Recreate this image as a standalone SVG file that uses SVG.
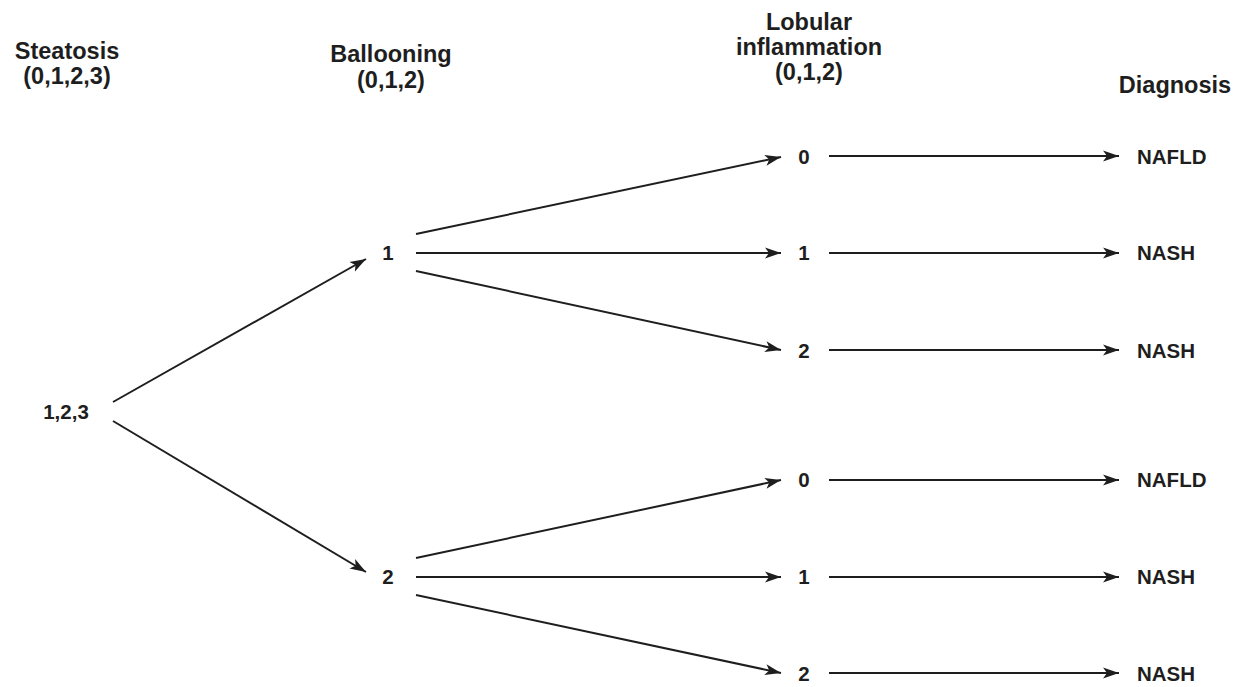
<svg xmlns="http://www.w3.org/2000/svg" width="1247" height="687" viewBox="0 0 1247 687">
<style>
text{font-family:"Liberation Sans",Arial,sans-serif;fill:#1e1e1e;text-anchor:middle}
.h{font-size:23.5px;font-weight:bold}
.n{font-size:20.5px;font-weight:bold}
.d{font-size:20.5px;font-weight:bold;text-anchor:start}
.c line{stroke:#1e1e1e;stroke-width:2;marker-end:url(#ah)}
</style>
<defs>
<marker id="ah" markerUnits="userSpaceOnUse" markerWidth="18" markerHeight="12" refX="16" refY="6" orient="auto">
<path d="M0,0.5 L16,6 L0,11.5 L4,6 z" fill="#1e1e1e"/>
</marker>
</defs>
<rect width="1247" height="687" fill="#fff"/>
<g id="headers">
<text class="h" x="67" y="59">Steatosis</text>
<text class="h" x="67" y="84">(0,1,2,3)</text>
<text class="h" x="391" y="62">Ballooning</text>
<text class="h" x="391" y="88">(0,1,2)</text>
<text class="h" x="809" y="30">Lobular</text>
<text class="h" x="809" y="55">inflammation</text>
<text class="h" x="809" y="80">(0,1,2)</text>
<text class="h" x="1175" y="93">Diagnosis</text>
</g>
<g id="steatosis"><text class="n" x="66" y="419">1,2,3</text></g>
<g id="ballooning-1"><text class="n" x="388" y="260">1</text></g>
<g id="ballooning-2"><text class="n" x="388" y="584">2</text></g>
<g id="lobular-1-0"><text class="n" x="804" y="164">0</text></g>
<g id="lobular-1-1"><text class="n" x="804" y="260">1</text></g>
<g id="lobular-1-2"><text class="n" x="804" y="358">2</text></g>
<g id="lobular-2-0"><text class="n" x="804" y="487">0</text></g>
<g id="lobular-2-1"><text class="n" x="804" y="584">1</text></g>
<g id="lobular-2-2"><text class="n" x="804" y="681">2</text></g>
<g id="diag-1"><text class="d" x="1137" y="164">NAFLD</text></g>
<g id="diag-2"><text class="d" x="1137" y="260">NASH</text></g>
<g id="diag-3"><text class="d" x="1137" y="358">NASH</text></g>
<g id="diag-4"><text class="d" x="1137" y="487">NAFLD</text></g>
<g id="diag-5"><text class="d" x="1137" y="584">NASH</text></g>
<g id="diag-6"><text class="d" x="1137" y="681">NASH</text></g>
<g class="c" id="connectors">
<line x1="113" y1="402" x2="366" y2="259"/>
<line x1="113" y1="421" x2="366" y2="572"/>
<line x1="416" y1="234" x2="781" y2="157"/>
<line x1="416" y1="253" x2="781" y2="253"/>
<line x1="416" y1="271" x2="781" y2="350"/>
<line x1="416" y1="558" x2="781" y2="480"/>
<line x1="416" y1="577" x2="781" y2="577"/>
<line x1="416" y1="595" x2="781" y2="673"/>
<line x1="829" y1="156" x2="1119" y2="156"/>
<line x1="829" y1="253" x2="1119" y2="253"/>
<line x1="829" y1="350" x2="1119" y2="350"/>
<line x1="829" y1="480" x2="1119" y2="480"/>
<line x1="829" y1="577" x2="1119" y2="577"/>
<line x1="829" y1="673" x2="1119" y2="673"/>
</g>
</svg>
